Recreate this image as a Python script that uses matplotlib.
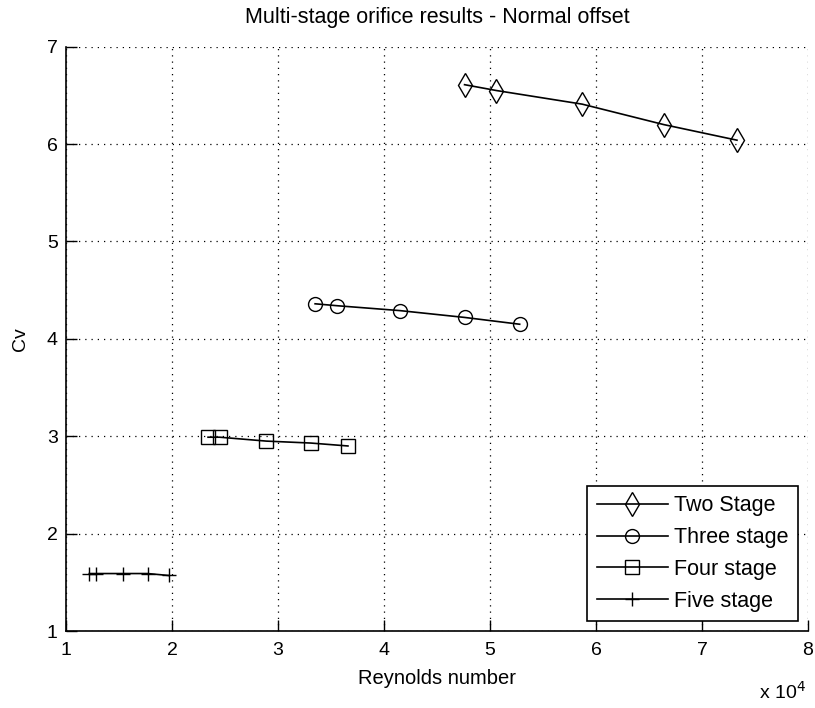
import matplotlib
matplotlib.use("Agg")
import matplotlib.pyplot as plt
from matplotlib.ticker import FuncFormatter

plt.rcParams['font.family'] = ['Liberation Sans', 'DejaVu Sans']

# Reynolds numbers and flow coefficients per orifice configuration
re_two = [47600, 50600, 58700, 66400, 73300]
cv_two = [6.61, 6.55, 6.41, 6.20, 6.04]

re_three = [33500, 35600, 41500, 47600, 52800]
cv_three = [4.36, 4.34, 4.29, 4.22, 4.15]

re_four = [23400, 24500, 28900, 33100, 36600]
cv_four = [2.99, 2.99, 2.95, 2.93, 2.90]

re_five = [12200, 12800, 15400, 17700, 19700]
cv_five = [1.59, 1.59, 1.59, 1.59, 1.57]

series_labels = ["Two Stage", "Three stage", "Four stage", "Five stage"]
x_ticks = [10000, 20000, 30000, 40000, 50000, 60000, 70000, 80000]
y_ticks = [1, 2, 3, 4, 5, 6, 7]

fig = plt.figure(figsize=(8.15, 7.08), dpi=100)
ax = fig.add_axes([66 / 815, 1 - 631 / 708, (808 - 66) / 815, (631 - 46.7) / 708])

common = dict(color='black', linewidth=1.2, markerfacecolor='none',
              markeredgecolor='black', markeredgewidth=1.0)
ax.plot(re_two, cv_two, marker='d', markersize=12.5, label=series_labels[0], **common)
ax.plot(re_three, cv_three, marker='o', markersize=10, label=series_labels[1], **common)
ax.plot(re_four, cv_four, marker='s', markersize=10, label=series_labels[2], **common)
ax.plot(re_five, cv_five, marker='+', markersize=10, label=series_labels[3], **common)

ax.set_xlim(10000, 80000)
ax.set_ylim(1, 7)
ax.set_xticks(x_ticks)
ax.set_yticks(y_ticks)
ax.xaxis.set_major_formatter(FuncFormatter(lambda v, p: f"{v / 1e4:g}"))

ax.grid(True, color='black', linestyle=(0, (1, 4)), linewidth=0.9)
for side in ('top', 'right'):
    ax.spines[side].set_visible(False)
for side in ('left', 'bottom'):
    ax.spines[side].set_linewidth(1.2)
ax.tick_params(direction='in', length=8, width=1, labelsize=14, colors='black')
ax.tick_params(axis='x', pad=8)
ax.tick_params(axis='y', pad=6)

ax.set_title("Multi-stage orifice results - Normal offset", fontsize=15.5, pad=17)
ax.set_xlabel("Reynolds number", fontsize=14.5, labelpad=7)
ax.set_ylabel("Cv", fontsize=14, labelpad=13)
fig.text(782 / 815, 1 - 692 / 708, r"x 10$^4$", fontsize=14, ha='center', va='center')

leg = ax.legend(loc='lower right', fontsize=15.5, frameon=True, fancybox=False,
                edgecolor='black', framealpha=1, borderpad=0.45, labelspacing=0.5,
                handlelength=3.3, handletextpad=0.3, borderaxespad=0.45)
leg.get_frame().set_linewidth(1.2)

fig.savefig("out.png", dpi=100)
